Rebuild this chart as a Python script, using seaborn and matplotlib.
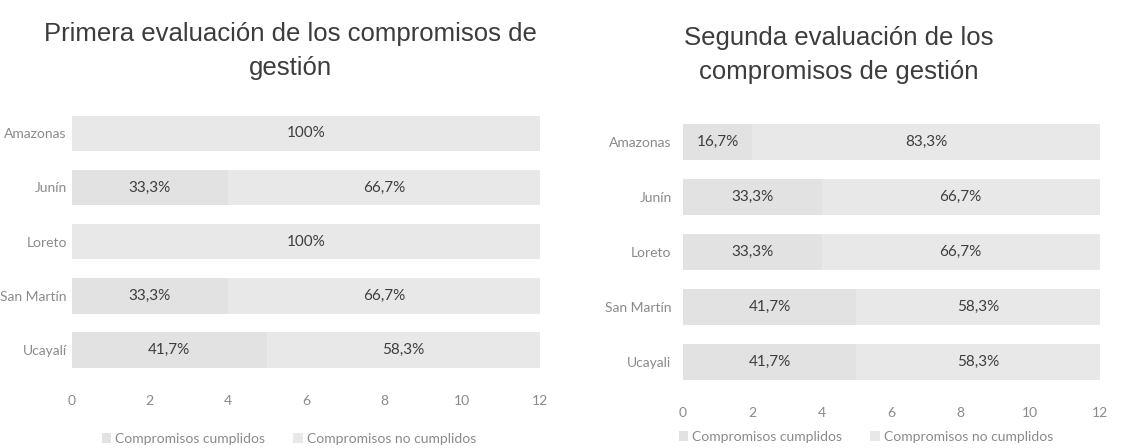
import pandas as pd
import seaborn as sns
import matplotlib.pyplot as plt

# Datos de las dos evaluaciones (numero de compromisos, total 12)
regiones = ['Amazonas', 'Junín', 'Loreto', 'San Martín', 'Ucayalí']
regiones_2 = ['Amazonas', 'Junín', 'Loreto', 'San Martín', 'Ucayali']
cumplidos_1 = [0, 4, 0, 4, 5]
no_cumplidos_1 = [12, 8, 12, 8, 7]
cumplidos_2 = [2, 4, 4, 5, 5]
no_cumplidos_2 = [10, 8, 8, 7, 7]
ticks_x = [0, 2, 4, 6, 8, 10, 12]

titulo_1 = 'Primera evaluación de los compromisos de\ngestión'
titulo_2 = 'Segunda evaluación de los\ncompromisos de gestión'
leyenda = ['Compromisos cumplidos', 'Compromisos no cumplidos']

sns.set_theme(style='white')
plt.rcParams['font.family'] = ['Lato', 'DejaVu Sans']

color_si = '#e2e2e2'
color_no = '#e8e8e8'
gris = '#8a8a8a'


def fmt(v):
    if v == 100:
        return '100%'
    return f'{v:.1f}%'.replace('.', ',')


def plot_stacked(ax, regiones, si, no):
    data = pd.DataFrame({'region': regiones, 'si': si, 'no': no})
    data['total'] = data['si'] + data['no']
    sns.barplot(x='total', y='region', data=data, color=color_no, orient='h',
                width=0.65, ax=ax, saturation=1, label=leyenda[1], linewidth=0)
    sns.barplot(x='si', y='region', data=data, color=color_si, orient='h',
                width=0.65, ax=ax, saturation=1, label=leyenda[0], linewidth=0)
    # etiquetas de porcentaje
    for i, row in data.iterrows():
        p_si = row['si'] / row['total'] * 100
        p_no = row['no'] / row['total'] * 100
        if row['si'] > 0:
            ax.text(row['si'] / 2, i, fmt(p_si), ha='center', va='center',
                    fontsize=11, color='#3e3e3e')
        ax.text(row['si'] + row['no'] / 2, i, fmt(p_no), ha='center', va='center',
                fontsize=11, color='#3e3e3e')
    ax.set_xlim(0, 12)
    ax.set_xticks(ticks_x)
    ax.set_xlabel('')
    ax.set_ylabel('')
    sns.despine(ax=ax, left=True, bottom=True)
    ax.tick_params(axis='x', colors=gris, labelsize=10, pad=13, length=0)
    ax.tick_params(axis='y', colors=gris, labelsize=10, length=0)


fig = plt.figure(figsize=(11.21, 4.48), dpi=100)
ax1 = fig.add_axes([0.064, 0.158, 0.418, 0.605])
ax2 = fig.add_axes([0.609, 0.131, 0.372, 0.614])

plot_stacked(ax1, regiones, cumplidos_1, no_cumplidos_1)
plot_stacked(ax2, regiones_2, cumplidos_2, no_cumplidos_2)
ax2.tick_params(axis='y', pad=8)

fig.text(0.259, 0.886, titulo_1, ha='center', va='center', fontsize=18.5,
         color='#3c3c3c', family=['Liberation Sans'], linespacing=1.55)
fig.text(0.748, 0.877, titulo_2, ha='center', va='center', fontsize=18.5,
         color='#3c3c3c', family=['Liberation Sans'], linespacing=1.55)

for ax, x0, y0, gap in [(ax1, 0.037, -0.228, 2.0), (ax2, -0.04, -0.172, 2.0)]:
    h, l = ax.get_legend_handles_labels()
    order = [l.index(leyenda[0]), l.index(leyenda[1])]
    ax.legend([h[k] for k in order], [l[k] for k in order], ncol=2, frameon=False,
              loc='center left', bbox_to_anchor=(x0, y0), fontsize=10,
              labelcolor=gris, handlelength=0.7, handleheight=0.7,
              handletextpad=0.3, columnspacing=gap)

fig.savefig('out.png', dpi=100, facecolor='white')
